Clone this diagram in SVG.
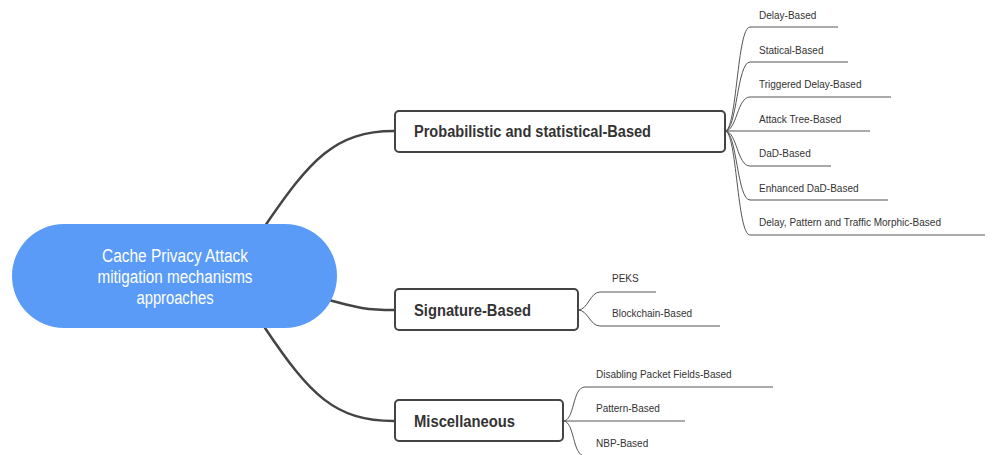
<svg xmlns="http://www.w3.org/2000/svg" width="992" height="455" viewBox="0 0 992 455">
<style>
.main{fill:none;stroke:#444;stroke-width:2.5;stroke-linecap:round}
.sub{fill:none;stroke:#555;stroke-width:1}
.box{fill:#fff;stroke:#444;stroke-width:2}
.bt{font-family:"Liberation Sans",Arial,sans-serif;font-weight:bold;font-size:16px;fill:#333}
.ct{font-family:"Liberation Sans",Arial,sans-serif;font-size:10px;fill:#333}
.rt{font-family:"Liberation Sans",Arial,sans-serif;font-size:18px;fill:#fff}
</style>
<rect width="992" height="455" fill="#fff"/>
<g id="connectors">
<path class="main" d="M265,226 C310,160 335,131 394,131"/>
<path class="main" d="M329,300 C352,306 362,310 394,310"/>
<path class="main" d="M265,328 C310,395 335,421 394,421"/>
<path class="sub" d="M725,131 C737,131 737,27 750,27 L838,27"/>
<path class="sub" d="M725,131 C737,131 737,62 750,62 L848,62"/>
<path class="sub" d="M725,131 C737,131 737,97 750,97 L891,97"/>
<path class="sub" d="M725,131 L870,131"/>
<path class="sub" d="M725,131 C737,131 737,166 750,166 L831,166"/>
<path class="sub" d="M725,131 C737,131 737,200 750,200 L888,200"/>
<path class="sub" d="M725,131 C737,131 737,235 750,235 L985,235"/>
<path class="sub" d="M578,310 C588,310 590,292 600,292 L656,292"/>
<path class="sub" d="M578,310 C588,310 590,326 600,326 L720,326"/>
<path class="sub" d="M563,421 C575,421 572,387 585,387 L773,387"/>
<path class="sub" d="M563,421 L685,421"/>
<path class="sub" d="M563,421 C575,421 572,456 585,456 L650,456"/>
</g>
<g id="root">
<rect x="12" y="224" width="325" height="104" rx="52" fill="#5a9bf8"/>
<text class="rt" x="175" y="262" text-anchor="middle" textLength="146" lengthAdjust="spacingAndGlyphs">Cache Privacy Attack</text>
<text class="rt" x="175" y="283" text-anchor="middle" textLength="155" lengthAdjust="spacingAndGlyphs">mitigation mechanisms</text>
<text class="rt" x="175" y="304" text-anchor="middle" textLength="77" lengthAdjust="spacingAndGlyphs">approaches</text>
</g>
<g id="node-prob">
<rect class="box" x="395" y="111" width="330" height="41" rx="4"/>
<text class="bt" x="414" y="137" textLength="237" lengthAdjust="spacingAndGlyphs">Probabilistic and statistical-Based</text>
</g>
<g id="node-sig">
<rect class="box" x="395" y="289" width="183" height="41" rx="4"/>
<text class="bt" x="414" y="316" textLength="117" lengthAdjust="spacingAndGlyphs">Signature-Based</text>
</g>
<g id="node-misc">
<rect class="box" x="395" y="400" width="168" height="41" rx="4"/>
<text class="bt" x="414" y="427" textLength="101" lengthAdjust="spacingAndGlyphs">Miscellaneous</text>
</g>
<g id="children">
<text class="ct" x="759" y="19">Delay-Based</text>
<text class="ct" x="759" y="54">Statical-Based</text>
<text class="ct" x="759" y="88">Triggered Delay-Based</text>
<text class="ct" x="759" y="123">Attack Tree-Based</text>
<text class="ct" x="759" y="157">DaD-Based</text>
<text class="ct" x="759" y="192">Enhanced DaD-Based</text>
<text class="ct" x="759" y="226">Delay, Pattern and Traffic Morphic-Based</text>
<text class="ct" x="612" y="282">PEKS</text>
<text class="ct" x="612" y="317">Blockchain-Based</text>
<text class="ct" x="596" y="378">Disabling Packet Fields-Based</text>
<text class="ct" x="596" y="412">Pattern-Based</text>
<text class="ct" x="596" y="447">NBP-Based</text>
</g>
</svg>
